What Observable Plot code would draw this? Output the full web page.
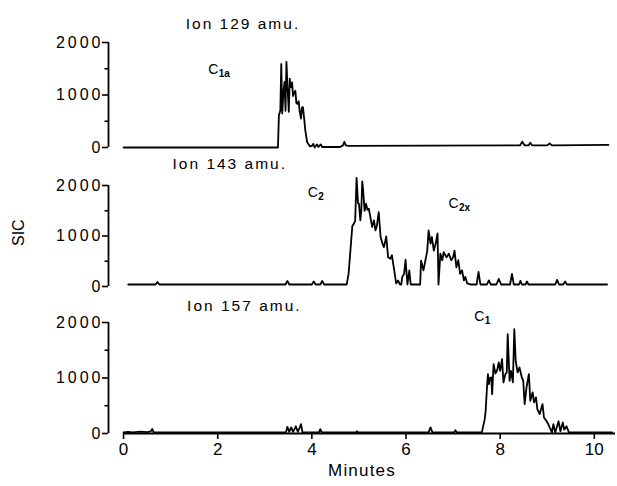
<!DOCTYPE html>
<html><head><meta charset="utf-8">
<script src="https://cdn.jsdelivr.net/npm/d3@7"></script>
<script src="https://cdn.jsdelivr.net/npm/@observablehq/plot@0.6"></script>
<style>
body{margin:0;background:#fff;}
#chart{width:617px;height:486px;font-family:"Liberation Sans",Arial,sans-serif;}
#chart svg{display:block;overflow:visible;}
#chart svg text{fill:#000;}
g[aria-label="y-axis tick label"] text{letter-spacing:3px;}
</style></head><body><div id="chart"></div>
<script>
// time (minutes), SIC counts
const ion129 = [[0,0],[3.28,0],[3.30,620],[3.33,700],[3.35,1590],[3.37,650],[3.40,1100],[3.42,1250],[3.44,700],[3.46,1630],[3.48,1200],[3.51,680],[3.53,1310],[3.55,1150],[3.58,1240],[3.60,980],[3.62,1030],[3.65,1080],[3.67,850],[3.69,830],[3.72,880],[3.74,700],[3.77,550],[3.79,760],[3.81,770],[3.84,520],[3.86,330],[3.90,100],[3.96,20],[4.00,30],[4.03,70],[4.06,0],[4.09,40],[4.11,60],[4.14,10],[4.16,30],[4.19,60],[4.22,10],[4.25,10],[4.60,10],[4.66,40],[4.69,110],[4.72,40],[4.78,30],[8.42,40],[8.47,110],[8.52,40],[8.60,40],[8.64,90],[8.68,40],[9.00,40],[9.05,80],[9.10,40],[10.30,50]];

const ion143 = [[0.10,40],[0.68,40],[0.72,90],[0.76,40],[3.44,40],[3.48,110],[3.52,40],[4.00,40],[4.04,100],[4.08,40],[4.18,40],[4.22,110],[4.26,40],[4.74,40],[4.78,250],[4.86,1200],[4.89,1240],[4.92,1300],[4.95,2150],[4.98,1650],[5.00,1640],[5.03,1310],[5.05,1500],[5.07,2080],[5.09,1900],[5.12,1500],[5.15,1640],[5.18,1520],[5.21,1540],[5.25,1340],[5.28,1180],[5.32,1310],[5.35,1110],[5.38,1200],[5.42,1470],[5.46,980],[5.50,850],[5.53,780],[5.56,900],[5.58,990],[5.62,580],[5.67,550],[5.70,620],[5.75,320],[5.79,60],[5.83,120],[5.87,40],[5.90,40],[5.92,190],[5.96,250],[5.99,530],[6.03,40],[6.07,320],[6.10,40],[6.30,40],[6.32,510],[6.37,320],[6.41,510],[6.45,700],[6.48,1110],[6.52,850],[6.55,980],[6.59,710],[6.63,850],[6.67,1050],[6.69,40],[6.73,650],[6.77,520],[6.80,680],[6.86,580],[6.91,650],[6.96,520],[7.00,580],[7.03,710],[7.07,380],[7.11,520],[7.15,250],[7.19,320],[7.23,120],[7.26,190],[7.30,60],[7.37,40],[7.50,40],[7.54,290],[7.58,40],[7.72,40],[7.76,120],[7.80,40],[7.92,40],[7.97,150],[8.02,40],[8.21,40],[8.25,250],[8.29,40],[8.40,40],[8.43,110],[8.46,40],[8.54,40],[8.57,100],[8.60,40],[9.17,40],[9.21,130],[9.25,40],[9.34,40],[9.38,100],[9.42,40],[10.27,40]];

const ion157 = [[0,20],[0.10,30],[0.20,20],[0.35,35],[0.50,25],[0.58,40],[0.61,80],[0.64,20],[3.45,20],[3.48,120],[3.52,30],[3.56,110],[3.60,30],[3.66,130],[3.70,30],[3.74,100],[3.77,170],[3.80,20],[4.15,20],[4.18,80],[4.21,20],[4.94,20],[4.96,40],[4.98,20],[6.48,20],[6.52,110],[6.56,20],[7.02,20],[7.05,60],[7.08,20],[7.61,20],[7.67,250],[7.69,384],[7.72,830],[7.74,1070],[7.76,890],[7.78,1000],[7.81,1010],[7.83,710],[7.86,1250],[7.90,1080],[7.94,1150],[7.97,1280],[8.00,1130],[8.04,1340],[8.07,920],[8.11,1070],[8.14,1100],[8.16,1790],[8.20,950],[8.23,1130],[8.27,920],[8.30,1880],[8.33,1310],[8.37,1100],[8.41,1190],[8.46,1010],[8.49,950],[8.52,530],[8.56,830],[8.61,1070],[8.64,590],[8.69,740],[8.72,560],[8.76,650],[8.79,440],[8.84,350],[8.90,530],[8.93,290],[8.98,230],[9.02,170],[9.10,20],[9.13,170],[9.17,20],[9.24,220],[9.28,40],[9.33,200],[9.36,70],[9.41,130],[9.46,20],[10.38,20]];

const panelTitles = ["Ion 129 amu.", "Ion 143 amu.", "Ion 157 amu."];
const majorTicksY = [0, 1000, 2000];
const minorTicksY = [500, 1500];
const ticksX = [0, 2, 4, 6, 8, 10];
const yLabel = "SIC";
const xLabel = "Minutes";

// annotation anchors (data units of each panel)
const titleAnchors = [{t: 1.32, v: 2353}, {t: 1.04, v: 2435}, {t: 1.35, v: 2304}];
const peakLabels = [
  {panel: 0, t: 1.80, v: 1476, main: "C", sub: "1a"},
  {panel: 1, t: 3.91, v: 1861, main: "C", sub: "2"},
  {panel: 1, t: 6.90, v: 1634, main: "C", sub: "2x"},
  {panel: 2, t: 7.45, v: 2106, main: "C", sub: "1"}
];

const xDomain = [-0.32, 10.45];
const font = "'Liberation Sans', Arial, Helvetica, sans-serif";
const layout = [
  {series: ion129, height: 150, marginTop: 42, marginBottom: 3},
  {series: ion143, height: 145, marginTop: 35, marginBottom: 9},
  {series: ion157, height: 191, marginTop: 27, marginBottom: 53}
];

const root = document.getElementById("chart");
layout.forEach((p, i) => {
  const labels = peakLabels.filter(d => d.panel === i);
  const marks = [
    Plot.ruleX([xDomain[0]], {y1: 0, y2: 2000, stroke: "black", strokeWidth: 1.8}),
    Plot.axisY({ticks: majorTicksY, tickSize: 6, tickPadding: -1, fontSize: 16, strokeWidth: 1.6, tickFormat: d3.format("d"), label: null}),
    Plot.axisY({ticks: minorTicksY, tickSize: 3.5, strokeWidth: 1.6, tickFormat: () => "", label: null}),
    Plot.line(p.series, {x: d => d[0], y: d => d[1], stroke: "black", strokeWidth: 1.8}),
    Plot.text([panelTitles[i]], {x: () => titleAnchors[i].t, y: () => titleAnchors[i].v, text: d => d, textAnchor: "start", lineAnchor: "middle", fontSize: 15.5}),
    Plot.text(labels, {x: "t", y: "v", text: "main", textAnchor: "start", lineAnchor: "middle", fontSize: 14}),
    Plot.text(labels, {x: "t", y: "v", text: "sub", textAnchor: "start", lineAnchor: "middle", fontSize: 10, fontWeight: "bold", dx: 10.5, dy: 4})
  ];
  if (i === 1) {
    marks.push(Plot.text([yLabel], {frameAnchor: "left", text: d => d, dx: -90, dy: 10, rotate: -90, fontSize: 16}));
  }
  if (i === 2) {
    marks.push(Plot.ruleY([0], {x1: 0, x2: xDomain[1], stroke: "black", strokeWidth: 1.8}));
    marks.push(Plot.axisX({ticks: ticksX, tickSize: 6, tickPadding: 3, fontSize: 17, strokeWidth: 1.6, tickFormat: d3.format("d"), label: null}));
    marks.push(Plot.text([xLabel], {frameAnchor: "bottom", text: d => d, dy: 37, lineAnchor: "middle", fontSize: 17}));
  }
  const svg = Plot.plot({
    width: 617,
    height: p.height,
    marginLeft: 108,
    marginRight: 2,
    marginTop: p.marginTop,
    marginBottom: p.marginBottom,
    style: {fontFamily: font, background: "white", color: "black", overflow: "visible"},
    x: {domain: xDomain, axis: i === 2 ? undefined : null},
    y: {domain: [0, 2000], label: null},
    marks
  });
  d3.select(svg).selectAll("text").each(function() {
    const s = this.textContent;
    if (s.startsWith("Ion")) this.style.letterSpacing = "2px";
    if (s === xLabel) this.style.letterSpacing = "1.2px";
  });
  root.appendChild(svg);
});
</script>
</body></html>
